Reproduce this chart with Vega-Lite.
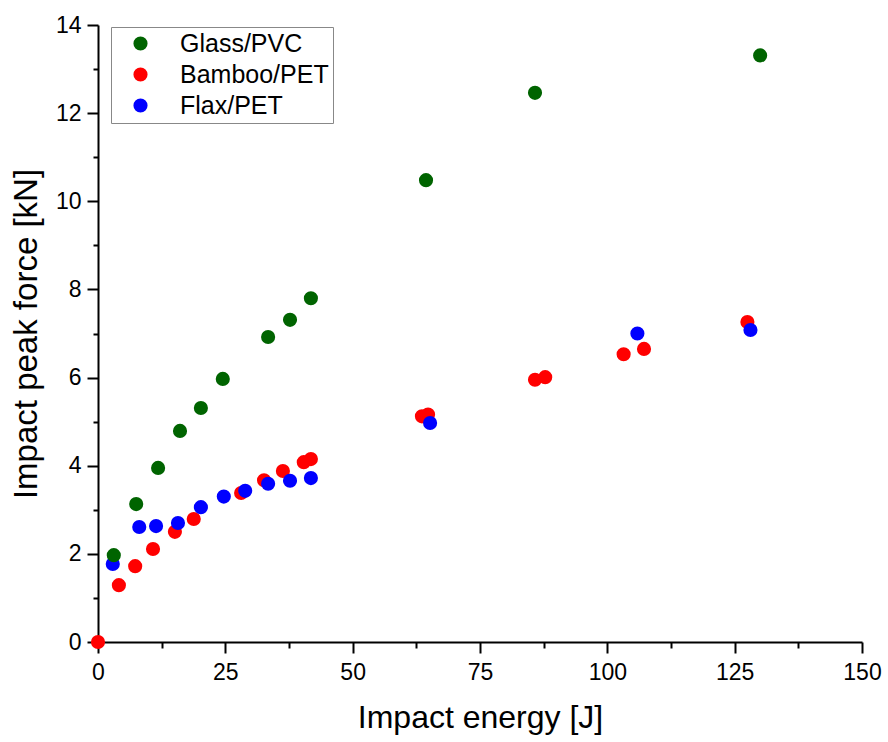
{
  "$schema": "https://vega.github.io/schema/vega-lite/v6.json",
  "width": 764,
  "height": 617,
  "autosize": {"type": "none"},
  "padding": {"left": 98, "top": 25, "right": 26, "bottom": 100},
  "background": "white",
  "config": {
    "view": {"stroke": null},
    "font": "Liberation Sans"
  },
  "data": {
    "values": [
      {"series": "Bamboo/PET", "energy": 0, "force": 0},
      {"series": "Bamboo/PET", "energy": 4.1, "force": 1.29},
      {"series": "Bamboo/PET", "energy": 7.3, "force": 1.72},
      {"series": "Bamboo/PET", "energy": 10.8, "force": 2.11},
      {"series": "Bamboo/PET", "energy": 15.1, "force": 2.5},
      {"series": "Bamboo/PET", "energy": 18.8, "force": 2.79},
      {"series": "Bamboo/PET", "energy": 28.1, "force": 3.38},
      {"series": "Bamboo/PET", "energy": 32.6, "force": 3.67},
      {"series": "Bamboo/PET", "energy": 36.3, "force": 3.88},
      {"series": "Bamboo/PET", "energy": 40.4, "force": 4.08},
      {"series": "Bamboo/PET", "energy": 41.8, "force": 4.15},
      {"series": "Bamboo/PET", "energy": 63.6, "force": 5.12},
      {"series": "Bamboo/PET", "energy": 64.8, "force": 5.16},
      {"series": "Bamboo/PET", "energy": 85.8, "force": 5.95},
      {"series": "Bamboo/PET", "energy": 87.8, "force": 6.01},
      {"series": "Bamboo/PET", "energy": 103.2, "force": 6.53},
      {"series": "Bamboo/PET", "energy": 107.2, "force": 6.65},
      {"series": "Bamboo/PET", "energy": 127.5, "force": 7.26},
      {"series": "Flax/PET", "energy": 2.9, "force": 1.77},
      {"series": "Flax/PET", "energy": 8.1, "force": 2.61},
      {"series": "Flax/PET", "energy": 11.4, "force": 2.63},
      {"series": "Flax/PET", "energy": 15.7, "force": 2.7},
      {"series": "Flax/PET", "energy": 20.2, "force": 3.06},
      {"series": "Flax/PET", "energy": 24.7, "force": 3.3},
      {"series": "Flax/PET", "energy": 28.9, "force": 3.43},
      {"series": "Flax/PET", "energy": 33.4, "force": 3.59},
      {"series": "Flax/PET", "energy": 37.7, "force": 3.66},
      {"series": "Flax/PET", "energy": 41.8, "force": 3.72},
      {"series": "Flax/PET", "energy": 65.2, "force": 4.97},
      {"series": "Flax/PET", "energy": 105.9, "force": 7.0},
      {"series": "Flax/PET", "energy": 128.1, "force": 7.08},
      {"series": "Glass/PVC", "energy": 3.1, "force": 1.97},
      {"series": "Glass/PVC", "energy": 7.5, "force": 3.13},
      {"series": "Glass/PVC", "energy": 11.8, "force": 3.95},
      {"series": "Glass/PVC", "energy": 16.1, "force": 4.79},
      {"series": "Glass/PVC", "energy": 20.2, "force": 5.31},
      {"series": "Glass/PVC", "energy": 24.5, "force": 5.97},
      {"series": "Glass/PVC", "energy": 33.4, "force": 6.92},
      {"series": "Glass/PVC", "energy": 37.7, "force": 7.31},
      {"series": "Glass/PVC", "energy": 41.8, "force": 7.8},
      {"series": "Glass/PVC", "energy": 64.4, "force": 10.48},
      {"series": "Glass/PVC", "energy": 85.8, "force": 12.46},
      {"series": "Glass/PVC", "energy": 130.0, "force": 13.31}
    ]
  },
  "mark": {"type": "point", "filled": true, "size": 200, "opacity": 1, "strokeWidth": 0},
  "encoding": {
    "x": {
      "field": "energy",
      "type": "quantitative",
      "scale": {"domain": [0, 150], "nice": false, "zero": false},
      "axis": {
        "title": "Impact energy [J]",
        "values": [0, 12.5, 25, 37.5, 50, 62.5, 75, 87.5, 100, 112.5, 125, 137.5, 150],
        "labelExpr": "datum.value % 25 === 0 ? datum.label : ''",
        "tickSize": {"condition": {"test": "datum.value % 25 === 0", "value": 11}, "value": 6},
        "grid": false,
        "domainColor": "black",
        "domainWidth": 2,
        "tickColor": "black",
        "tickWidth": 2,
        "labelFontSize": 23,
        "labelColor": "black",
        "labelPadding": 8,
        "labelFlush": false,
        "titleFontSize": 32,
        "titleFontWeight": "normal",
        "titleColor": "black",
        "titlePadding": 18
      }
    },
    "y": {
      "field": "force",
      "type": "quantitative",
      "scale": {"domain": [0, 14], "nice": false},
      "axis": {
        "title": "Impact peak force [kN]",
        "values": [0, 1, 2, 3, 4, 5, 6, 7, 8, 9, 10, 11, 12, 13, 14],
        "labelExpr": "datum.value % 2 === 0 ? datum.label : ''",
        "tickSize": {"condition": {"test": "datum.value % 2 === 0", "value": 11}, "value": 5},
        "grid": false,
        "domainColor": "black",
        "domainWidth": 2,
        "tickColor": "black",
        "tickWidth": 2,
        "labelFontSize": 23,
        "labelColor": "black",
        "labelPadding": 6,
        "labelFlush": false,
        "titleFontSize": 33,
        "titleFontWeight": "normal",
        "titleColor": "black",
        "titlePadding": 12
      }
    },
    "color": {
      "field": "series",
      "type": "nominal",
      "scale": {
        "domain": ["Glass/PVC", "Bamboo/PET", "Flax/PET"],
        "range": ["#006400", "#ff0000", "#0000ff"]
      },
      "legend": {
        "title": null,
        "orient": "none",
        "legendX": 13,
        "legendY": 2,
        "padding": 4,
        "strokeColor": "#888888",
        "fillColor": "white",
        "symbolType": "circle",
        "symbolSize": 200,
        "symbolStrokeWidth": 0,
        "symbolOffset": 13,
        "labelFontSize": 25,
        "labelColor": "black",
        "labelOffset": 27,
        "rowPadding": 5
      }
    }
  }
}
